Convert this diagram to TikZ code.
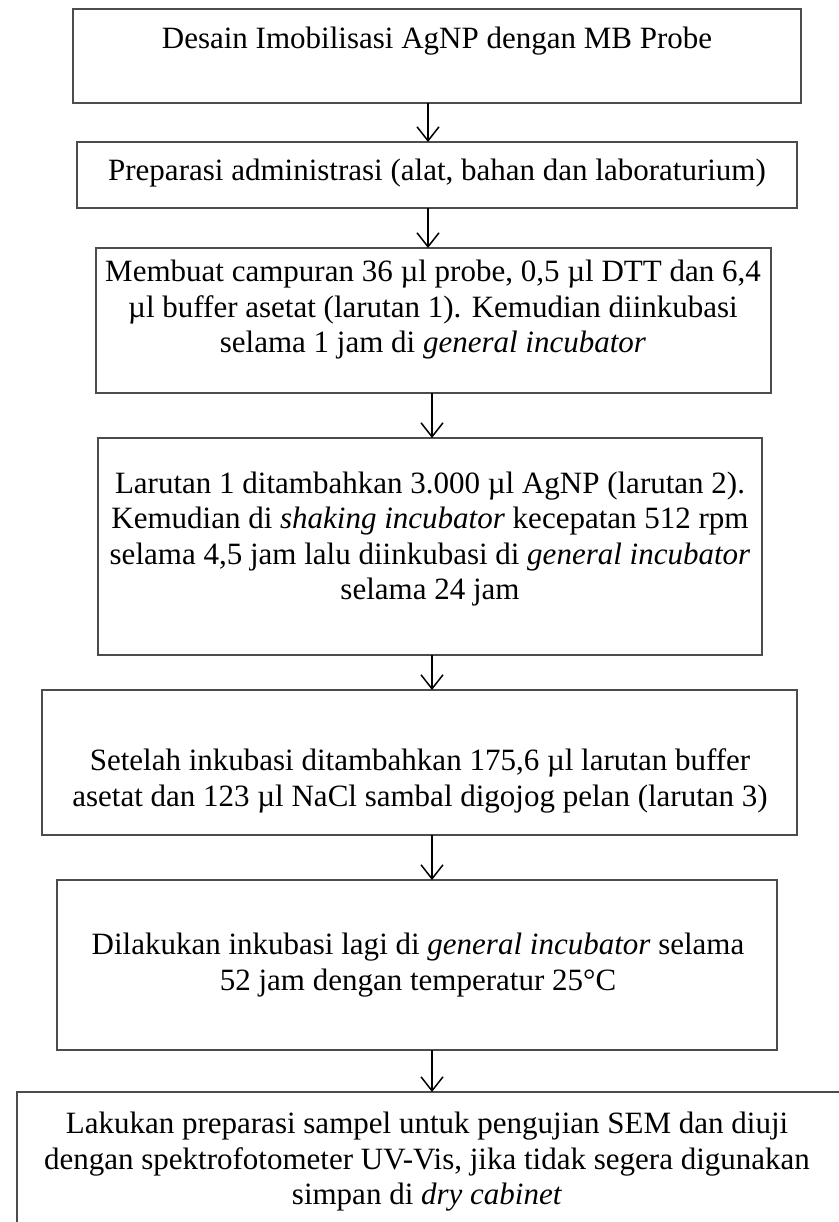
\documentclass[tikz,border=0pt]{standalone}
\usepackage{fontspec}
\setmainfont{Liberation Serif}
\usetikzlibrary{arrows.meta}
\tikzset{
  box/.style={draw=black!70, line width=1.3pt, anchor=north west, inner sep=0pt, outer sep=0pt},
  txt/.style={align=center, font=\fontsize{31}{35.5}\selectfont, inner sep=0pt},
  arr/.style={line width=1.5pt, -{Straight Barb[length=14pt,width=22pt,line width=1.5pt]}}
}
\begin{document}
\begin{tikzpicture}[x=1pt,y=-1pt]
\useasboundingbox[fill=white] (0,0) rectangle (838,1222);
% boxes
\node[box, minimum width=728, minimum height=94] (b1) at (73,9) {};
\node[box, minimum width=720, minimum height=66] (b2) at (77,142) {};
\node[box, minimum width=675, minimum height=145] (b3) at (96,248) {};
\node[box, minimum width=664, minimum height=217] (b4) at (98,438) {};
\node[box, minimum width=755, minimum height=145] (b5) at (42,690) {};
\node[box, minimum width=720, minimum height=170] (b6) at (57,880) {};
\node[box, minimum width=860, minimum height=200] (b7) at (17,1092) {};
% texts
\node[txt] (t1) at (437,41) {Desain Imobilisasi AgNP dengan MB Probe};
\node[txt] (t2) at (437,173) {Preparasi administrasi (alat, bahan dan laboraturium)};
\node[txt] (t3) at (433,310) {Membuat campuran 36 µl probe, 0,5 µl DTT dan 6,4\\µl buffer asetat (larutan 1). Kemudian diinkubasi\\selama 1 jam di \textit{general incubator}};
\node[txt] (t4) at (430,539) {Larutan 1 ditambahkan 3.000 µl AgNP (larutan 2).\\Kemudian di \textit{shaking incubator} kecepatan 512 rpm\\selama 4,5 jam lalu diinkubasi di \textit{general incubator}\\selama 24 jam};
\node[txt] (t5) at (420,781) {Setelah inkubasi ditambahkan 175,6 µl larutan buffer\\asetat dan 123 µl NaCl sambal digojog pelan (larutan 3)};
\node[txt] (t6) at (418,965) {Dilakukan inkubasi lagi di \textit{general incubator} selama\\52 jam dengan temperatur 25°C};
\node[txt] (t7) at (427,1162) {Lakukan preparasi sampel untuk pengujian SEM dan diuji\\dengan spektrofotometer UV-Vis, jika tidak segera digunakan\\simpan di \textit{dry cabinet}};
% arrow x positions
\coordinate (xa) at (428,0);
\coordinate (xb) at (432,0);
\draw[arr] (b1.south -| xa) -- (b2.north -| xa);
\draw[arr] (b2.south -| xa) -- (b3.north -| xa);
\draw[arr] (b3.south -| xb) -- (b4.north -| xb);
\draw[arr] (b4.south -| xb) -- (b5.north -| xb);
\draw[arr] (b5.south -| xb) -- (b6.north -| xb);
\draw[arr] (b6.south -| xb) -- (b7.north -| xb);
\end{tikzpicture}
\end{document}
